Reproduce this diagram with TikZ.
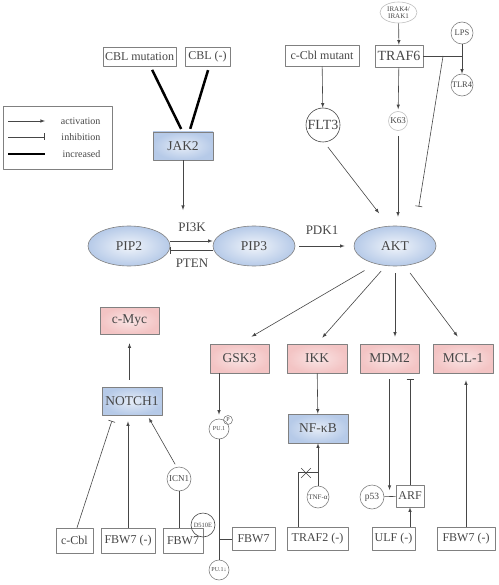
\documentclass[tikz,border=0pt]{standalone}
\usepackage{fontspec}
\setmainfont{Liberation Serif}
\usetikzlibrary{arrows.meta,shapes.geometric,shapes.misc}
\tikzset{>=latex}
\definecolor{lblue}{RGB}{182,202,232}
\definecolor{lpink}{RGB}{243,196,196}
\definecolor{ink}{RGB}{70,70,70}
\newcommand{\fsz}[1]{\fontsize{#1}{#1}\selectfont}

\begin{document}
\begin{tikzpicture}[x=1pt, y=-1pt, line join=round, color=ink, line width=0.6pt,
  box/.style={draw=gray, rectangle, inner sep=0pt, font=\fsz{12}},
  bbox/.style={box, font=\fsz{13.5}, inner color=lblue!35!white, outer color=lblue},
  pbox/.style={box, font=\fsz{13.5}, inner color=lpink!45!white, outer color=lpink},
  blob/.style={ellipse, draw=gray, inner sep=0pt, minimum width=82pt, minimum height=40pt, font=\fsz{13.5}, inner color=lblue!20!white, outer color=lblue},
  dot/.style={circle, draw=gray, inner sep=0pt},
  inh/.style={-{Bar[width=7pt]}},
  thick line/.style={line width=2.5pt, black}]
    \useasboundingbox (0,0) rectangle (498,585);
    \node[draw=gray, minimum width=109pt, minimum height=63pt, inner sep=0pt] (legend) at (57.5,137.5) {};
    \draw[->] (8,121) -- (45,121);
    \draw[inh] (8,137) -- (45,137);
    \draw[thick line] (8,154) -- (45,154);
    \node[anchor=east, font=\fsz{10}] (lact) at (104,121) {activation};
    \node[anchor=east, font=\fsz{10}] (linh) at (104,137) {inhibition};
    \node[anchor=east, font=\fsz{10}] (linc) at (104,154) {increased};

    \node[box, minimum width=73pt, minimum height=19pt] (cblm) at (139.5,56.5) {CBL mutation};
    \node[box, minimum width=45pt, minimum height=19pt] (cbln) at (207.5,56.5) {CBL (-)};
    \node[bbox, minimum width=60pt, minimum height=28pt] (JAK2) at (183,146) {JAK2};
    \node[box, minimum width=74pt, minimum height=21pt] (ccblm) at (322,55.5) {c-Cbl mutant};
    \node[box, minimum width=48pt, minimum height=22pt, font=\fsz{14}] (TRAF6) at (399,56) {TRAF6};
    \node[ellipse, draw=lightgray, inner sep=0pt, minimum width=37pt, minimum height=21pt, align=center, font=\fsz{7}] (IRAK) at (398.5,12.5) {IRAK4/\\IRAK1};
    \node[dot, minimum size=22pt, font=\fsz{8.5}] (LPS) at (462,33) {LPS};
    \node[dot, minimum size=22pt, font=\fsz{8.5}] (TLR4) at (462,85) {TLR4};
    \node[dot, draw=ink, minimum size=34pt, font=\fsz{14}] (FLT3) at (323,125) {FLT3};
    \node[dot, draw=lightgray, minimum size=19pt, font=\fsz{9}] (K63) at (398,121) {K63};

    \node[blob] (PIP2) at (129,246) {PIP2};
    \node[blob] (PIP3) at (254,246) {PIP3};
    \node[blob] (AKT) at (395,246) {AKT};
    \node[font=\fsz{13}] (PI3K) at (192,227) {PI3K};
    \node[font=\fsz{13}] (PTEN) at (192,263) {PTEN};
    \node[font=\fsz{13}] (PDK1) at (322,230) {PDK1};

    \node[pbox, minimum width=59pt, minimum height=27pt] (cMyc) at (129.5,320.5) {c-Myc};
    \node[pbox, minimum width=59pt, minimum height=29pt] (GSK3) at (239.5,358.5) {GSK3};
    \node[pbox, minimum width=60pt, minimum height=29pt] (IKK) at (317,358.5) {IKK};
    \node[pbox, minimum width=59pt, minimum height=29pt] (MDM2) at (389.5,358.5) {MDM2};
    \node[pbox, minimum width=60pt, minimum height=29pt] (MCL1) at (463,358.5) {MCL-1};
    \node[bbox, minimum width=60pt, minimum height=28pt] (NOTCH1) at (132,401) {NOTCH1};
    \node[bbox, minimum width=60pt, minimum height=29pt] (NFkB) at (318,428.5) {NF-κB};

    \node[box, minimum width=37pt, minimum height=25pt] (cCbl) at (74.5,540.5) {c-Cbl};
    \node[box, minimum width=54pt, minimum height=25pt] (fbwm) at (128,540.5) {FBW7 (-)};
    \node[box, minimum width=40pt, minimum height=25pt] (fbw) at (183,540.5) {FBW7};
    \node[box, minimum width=43pt, minimum height=23pt] (fbwb) at (253.5,539) {FBW7};
    \node[box, minimum width=61pt, minimum height=23pt] (traf2) at (317.5,539) {TRAF2 (-)};
    \node[box, minimum width=43pt, minimum height=23pt] (ulf) at (393.5,539) {ULF (-)};
    \node[box, minimum width=58pt, minimum height=23pt] (fbwr) at (466,539) {FBW7 (-)};
    \node[box, minimum width=28pt, minimum height=22pt] (ARF) at (410,496) {ARF};
    \node[dot, minimum size=24pt, font=\fsz{9}] (ICN1) at (179,479) {ICN1};
    \node[dot, draw=ink, minimum size=24pt, font=\fsz{6.5}] (D510E) at (203,525) {D510E};
    \node[dot, minimum size=20pt, font=\fsz{6}] (PU) at (219,429) {PU.1};
    \node[dot, minimum size=9pt, font=\fsz{6}] (P) at (228,420) {P};
    \node[dot, minimum size=20pt, font=\fsz{6}] (PUd) at (219,570) {PU.1↓};
    \node[dot, minimum size=22pt, font=\fsz{7}] (TNF) at (318,497) {TNF-α};
    \node[dot, minimum size=24pt, font=\fsz{9.5}] (p53) at (372,497) {p53};
    \node[cross out, draw=ink, minimum size=9pt, inner sep=0pt] (X) at (306,473) {};

    \draw[thick line, shorten <=4pt, shorten >=3pt] (cblm.-42) -- (JAK2.92);
    \draw[thick line, shorten <=4pt, shorten >=3pt] (cbln.-80) -- (JAK2.66);
    \draw[->, shorten >=9pt] (JAK2.south) -- (JAK2.south |- PI3K.north);
    \draw[->] ([yshift=5pt]PIP2.east) -- ([yshift=5pt]PIP3.west);
    \draw[inh] ([yshift=-4pt]PIP3.west) -- ([yshift=-4pt]PIP2.east);
    \draw[->, shorten <=4pt, shorten >=9pt] (PIP3) -- (AKT);
    \draw[->] (IRAK) -- (TRAF6);
    \draw[->] (LPS) -- (TLR4);
    \draw (TRAF6.east) -- coordinate[pos=0.51] (tj) (TRAF6.east -| LPS);
    \draw[inh, shorten >=22pt] (tj) -- (AKT.41);
    \draw[->] (ccblm) -- (FLT3);
    \draw[->, shorten >=2pt] (TRAF6) -- (K63);
    \draw[->, shorten <=6pt, shorten >=16pt] (FLT3.-86) -- (AKT.107);
    \draw[->, shorten <=5pt, shorten >=9pt] (K63) -- (K63 |- AKT.north);
    \draw[->, shorten <=13pt, shorten >=14pt] (AKT.-137) -- (GSK3.north);
    \draw[->, shorten <=7pt, shorten >=8pt] (AKT.-115) -- (IKK.north);
    \draw[->, shorten <=7pt, shorten >=7pt] (AKT.south) -- (AKT.south |- MDM2.north);
    \draw[->, shorten <=9pt, shorten >=9pt] (AKT.-64) -- (MCL1.north);

    \draw[->, shorten <=7pt, shorten >=9pt] (cMyc.south |- NOTCH1.north) -- (cMyc.south);
    \draw[inh, shorten >=6pt] (cCbl.79) -- (NOTCH1.-142);
    \draw[->, shorten >=6pt] (fbwm.north) -- (fbwm.north |- NOTCH1.south);
    \draw[->, shorten <=3pt, shorten >=3pt] (ICN1.101) -- (NOTCH1.-43);
    \draw (ICN1) -- (ICN1 |- fbw.north);
    \draw[->, shorten >=4pt] (PU |- GSK3.south) -- (PU);
    \draw (PU) -- (PUd);
    \draw (fbwb.west) -- (fbwb.west -| PU);
    \draw[->] (IKK) -- (NFkB);
    \draw[->] (TNF) -- (NFkB);
    \draw (traf2.149) |- ([yshift=13pt]TNF.north);
    \draw[->, shorten <=6pt, shorten >=6pt] (MDM2.south) -- (MDM2.south |- ARF.west);
    \draw[inh, shorten >=6pt] (ARF.north) -- (ARF.north |- MDM2.south);
    \draw (p53) -- (ARF);
    \draw[->] (ARF.south |- ulf.north) -- (ARF.south);
    \draw[->, shorten >=7pt] (fbwr.north) -- (fbwr.north |- MCL1.south);
\end{tikzpicture}
\end{document}
